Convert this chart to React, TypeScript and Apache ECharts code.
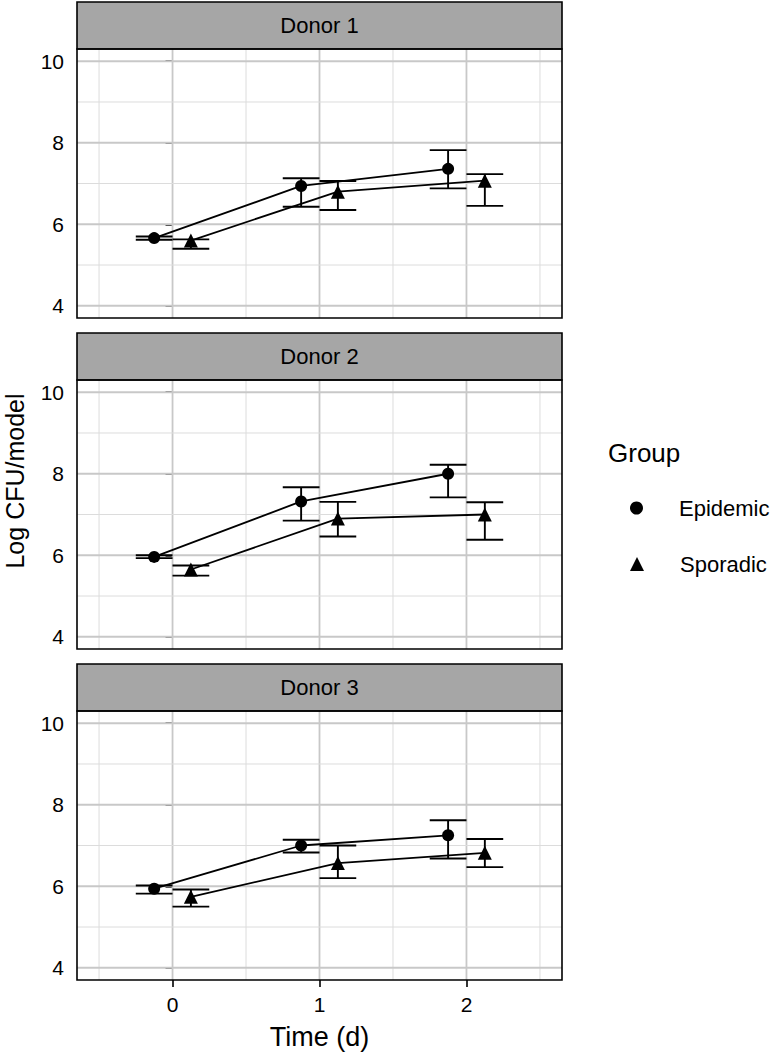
import React, { useEffect, useRef } from "react";
import * as echarts from "echarts";

const donors = ["Donor 1", "Donor 2", "Donor 3"];
const times = [0, 1, 2];
const dodge = 0.125;

const epiMean = [
  [5.66, 6.94, 7.36],
  [5.96, 7.32, 8.0],
  [5.94, 7.0, 7.25],
];
const epiLow = [
  [5.62, 6.43, 6.88],
  [5.93, 6.85, 7.42],
  [5.82, 6.83, 6.68],
];
const epiHigh = [
  [5.7, 7.13, 7.82],
  [6.0, 7.67, 8.22],
  [6.02, 7.14, 7.62],
];
const spoMean = [
  [5.6, 6.8, 7.07],
  [5.65, 6.9, 7.0],
  [5.74, 6.57, 6.82],
];
const spoLow = [
  [5.4, 6.35, 6.45],
  [5.5, 6.46, 6.38],
  [5.5, 6.2, 6.47],
];
const spoHigh = [
  [5.63, 7.06, 7.23],
  [5.75, 7.31, 7.3],
  [5.92, 7.0, 7.16],
];

const xMajor = [0, 1, 2];
const xMinor = [-0.5, 0.5, 1.5, 2.5];
const yMajor = [4, 6, 8, 10];
const yMinor = [5, 7, 9];
const xRange = [-0.65, 2.65];
const yRange = [3.7, 10.3];

const FONT = "Liberation Sans, Arial, Helvetica, sans-serif";

export default function App() {
  const ref = useRef<HTMLDivElement>(null);

  useEffect(() => {
    if (!ref.current) return;
    const chart = echarts.init(ref.current, undefined, { renderer: "svg" });

    const left = 77;
    const width = 485;
    const tops = [49, 380, 711];
    const height = 269;
    const stripH = 47;

    const grids = tops.map((t) => ({
      left,
      top: t,
      width,
      height,
      show: true,
      backgroundColor: "#ffffff",
      borderColor: "#000",
      borderWidth: 0,
      containLabel: false,
    }));

    const xAxes = tops.map((_, i) => ({
      type: "value",
      gridIndex: i,
      min: xRange[0],
      max: xRange[1],
      splitLine: { show: false },
      axisLine: { show: false },
      axisTick: {
        show: i === 2,
        customValues: xMajor,
        length: 7,
        lineStyle: { color: "#000", width: 1.6 },
      },
      axisLabel: {
        show: i === 2,
        customValues: xMajor,
        fontSize: 21,
        color: "#000",
        fontFamily: FONT,
        margin: 14,
      },
      name: i === 2 ? "Time (d)" : "",
      nameLocation: "middle",
      nameGap: 43,
      nameTextStyle: { fontSize: 27, color: "#000", fontFamily: FONT },
    }));

    const yAxes = tops.map((_, i) => ({
      type: "value",
      gridIndex: i,
      min: yRange[0],
      max: yRange[1],
      splitLine: { show: false },
      axisLine: { show: false },
      axisTick: {
        show: true,
        customValues: yMajor,
        length: 7,
        lineStyle: { color: "#000", width: 1.6 },
      },
      axisLabel: {
        show: true,
        customValues: yMajor,
        fontSize: 21,
        color: "#000",
        fontFamily: FONT,
        margin: 13,
      },
    }));

    const gridLineData = [
      ...xMajor.map((v) => [0, v]),
      ...xMinor.map((v) => [1, v]),
      ...yMajor.map((v) => [2, v]),
      ...yMinor.map((v) => [3, v]),
    ];

    const series: any[] = [];
    donors.forEach((_, i) => {
      series.push({
        type: "custom",
        xAxisIndex: i,
        yAxisIndex: i,
        silent: true,
        z: 1,
        data: gridLineData,
        renderItem: (params: any, api: any) => {
          const kind = api.value(0);
          const v = api.value(1);
          const cs = params.coordSys;
          let shape;
          if (kind < 2) {
            const p = api.coord([v, 7]);
            shape = { x1: p[0], y1: cs.y, x2: p[0], y2: cs.y + cs.height };
          } else {
            const p = api.coord([0, v]);
            shape = { x1: cs.x, y1: p[1], x2: cs.x + cs.width, y2: p[1] };
          }
          const major = kind % 2 === 0;
          return {
            type: "line",
            shape,
            style: {
              stroke: major ? "#c8c8c8" : "#dcdcdc",
              lineWidth: major ? 1.8 : 1,
            },
          };
        },
      });

      const groups = [
        { name: "Epidemic", mean: epiMean[i], lo: epiLow[i], hi: epiHigh[i], off: -dodge, symbol: "circle", size: 12 },
        { name: "Sporadic", mean: spoMean[i], lo: spoLow[i], hi: spoHigh[i], off: dodge, symbol: "triangle", size: 14 },
      ];

      groups.forEach((g) => {
        series.push({
          type: "custom",
          name: g.name + " error",
          xAxisIndex: i,
          yAxisIndex: i,
          silent: true,
          z: 2,
          data: times.map((t, k) => [t + g.off, g.lo[k], g.hi[k]]),
          renderItem: (params: any, api: any) => {
            const x = api.value(0);
            const lo = api.value(1);
            const hi = api.value(2);
            const pLo = api.coord([x, lo]);
            const pHi = api.coord([x, hi]);
            const lL = api.coord([x - dodge, lo]);
            const lR = api.coord([x + dodge, lo]);
            const hL = api.coord([x - dodge, hi]);
            const hR = api.coord([x + dodge, hi]);
            const style = { stroke: "#000", lineWidth: 1.9 };
            return {
              type: "group",
              children: [
                { type: "line", shape: { x1: pLo[0], y1: pLo[1], x2: pHi[0], y2: pHi[1] }, style },
                { type: "line", shape: { x1: lL[0], y1: lL[1], x2: lR[0], y2: lR[1] }, style },
                { type: "line", shape: { x1: hL[0], y1: hL[1], x2: hR[0], y2: hR[1] }, style },
              ],
            };
          },
        });
        series.push({
          type: "line",
          name: g.name,
          xAxisIndex: i,
          yAxisIndex: i,
          z: 3,
          data: times.map((t, k) => [t + g.off, g.mean[k]]),
          symbol: g.symbol,
          symbolSize: g.size,
          showSymbol: true,
          lineStyle: { color: "#000", width: 1.8 },
          itemStyle: { color: "#000" },
          color: "#000",
        });
      });
    });

    const graphics: any[] = [];
    tops.forEach((t, i) => {
      graphics.push({
        type: "rect",
        shape: { x: left, y: t - stripH, width, height: stripH },
        style: { fill: "#a6a6a6", stroke: "#000", lineWidth: 1.6 },
        z: 100,
      });
      graphics.push({
        type: "text",
        x: left + width / 2,
        y: t - stripH / 2,
        style: {
          text: donors[i],
          fontSize: 22,
          fontFamily: FONT,
          fill: "#000",
          align: "center",
          verticalAlign: "middle",
        },
        z: 101,
      });
      graphics.push({
        type: "rect",
        shape: { x: left, y: t, width, height },
        style: { fill: "transparent", stroke: "#000", lineWidth: 1.6 },
        z: 100,
      });
    });
    graphics.push({
      type: "text",
      x: 15,
      y: 481,
      rotation: Math.PI / 2,
      style: {
        text: "Log CFU/model",
        fontSize: 25,
        fontFamily: FONT,
        fill: "#000",
        align: "center",
        verticalAlign: "middle",
      },
    });
    graphics.push({
      type: "text",
      x: 608,
      y: 453,
      style: {
        text: "Group",
        fontSize: 26,
        fontFamily: FONT,
        fill: "#000",
        align: "left",
        verticalAlign: "middle",
      },
    });

    const legendBase = {
      orient: "vertical",
      left: 630,
      padding: 0,
      itemWidth: 14,
      itemHeight: 14,
      selectedMode: false,
      textStyle: {
        fontSize: 22,
        fontFamily: FONT,
        color: "#000",
        lineHeight: 24,
        padding: [0, 0, 0, 31],
      },
      itemStyle: { color: "#000" },
    };

    chart.setOption({
      animation: false,
      backgroundColor: "#ffffff",
      grid: grids,
      xAxis: xAxes,
      yAxis: yAxes,
      legend: [
        { ...legendBase, top: 496, icon: "circle", data: ["Epidemic"], itemWidth: 13, itemHeight: 13 },
        { ...legendBase, top: 552, icon: "triangle", data: ["Sporadic"] },
      ],
      graphic: graphics,
      series,
    });

    return () => chart.dispose();
  }, []);

  return (
    <div
      ref={ref}
      style={{ position: "fixed", left: 0, top: 0, width: 780, height: 1056, background: "#fff" }}
    />
  );
}
